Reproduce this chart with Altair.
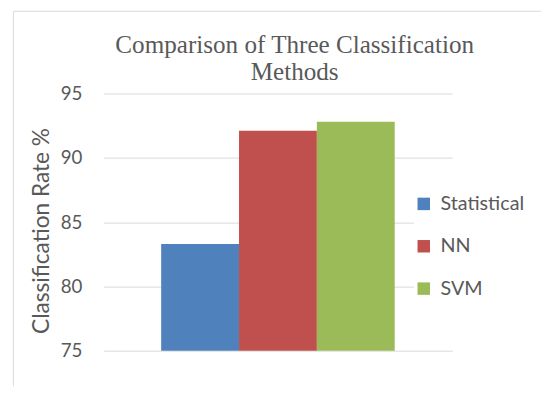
import altair as alt
import pandas as pd

methods = ["Statistical", "NN", "SVM"]
rates = [83.3, 92.1, 92.8]
colors = ["#4F81BD", "#C0504D", "#9BBB59"]
y_ticks = [75, 80, 85, 90, 95]
title_lines = ["Comparison of Three Classification", "Methods"]

df = pd.DataFrame({"method": methods, "rate": rates})

border = alt.Chart(alt.Data(values=[{"a": 1}])).mark_rect(
    fill="transparent", stroke="#D9D9D9", strokeWidth=1
).encode(
    x=alt.value(-91.5), x2=alt.value(600), y=alt.value(-83.5), y2=alt.value(500)
)

bars = alt.Chart(df).mark_bar().encode(
    x=alt.X("method:N", sort=methods,
            scale=alt.Scale(paddingInner=0, paddingOuter=0.74), axis=None),
    y=alt.Y("rate:Q",
            scale=alt.Scale(domain=[75, 95], nice=False, zero=False),
            axis=alt.Axis(values=y_ticks, grid=True, gridColor="#D9D9D9", gridWidth=1,
                          domain=False, ticks=False, labelPadding=22,
                          labelFont="Lato", labelFontSize=19, labelColor="#595959",
                          title="Classification Rate %", titleFont="Lato",
                          titleFontSize=23, titleFontWeight="normal",
                          titleColor="#595959", titleAngle=-90,
                          titleBaseline="middle", titleAlign="center",
                          titleX=-63, titleY=139)),
    y2=alt.datum(75),
    color=alt.Color("method:N", sort=methods,
                    scale=alt.Scale(domain=methods, range=colors),
                    legend=alt.Legend(title=None, orient="none", legendX=315, legendY=102,
                                      symbolType="square", symbolSize=160,
                                      symbolStrokeWidth=0,
                                      labelFont="Lato", labelFontSize=20,
                                      labelColor="#595959", labelOffset=7,
                                      rowPadding=23, padding=0, fillColor="white")),
)

chart = alt.layer(border, bars).properties(
    width=354, height=261,
    title=alt.TitleParams(text=title_lines, font="Liberation Serif", fontSize=25.5,
                          fontWeight="normal", color="#595959", anchor="middle",
                          frame="group", dx=17, dy=84, offset=8, lineHeight=28),
    autosize=alt.AutoSizeParams(type="none"),
    padding={"left": 97, "top": 84, "right": 90, "bottom": 33},
).configure_view(strokeWidth=0)

chart.save("out.html", embed_options={"renderer": "svg", "actions": False})
